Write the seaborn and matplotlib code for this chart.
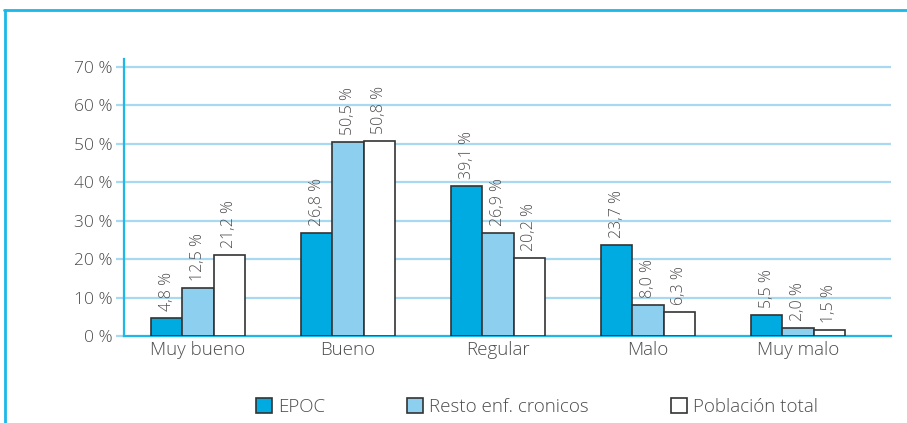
import matplotlib
matplotlib.use("Agg")
import matplotlib.pyplot as plt
from matplotlib.lines import Line2D
from matplotlib.patches import Rectangle
import pandas as pd
import seaborn as sns

# Self-rated health by group (%)
categories = ["Muy bueno", "Bueno", "Regular", "Malo", "Muy malo"]
series_names = ["EPOC", "Resto enf. cronicos", "Población total"]
epoc = [4.8, 26.8, 39.1, 23.7, 5.5]
resto = [12.5, 50.5, 26.9, 8.0, 2.0]
poblacion = [21.2, 50.8, 20.2, 6.3, 1.5]
y_ticks = [0, 10, 20, 30, 40, 50, 60, 70]

colors = ["#00abe2", "#8dcfef", "#ffffff"]
cyan = "#1cb8e8"
grid_col = "#a9d9f1"
text_col = "#4d4d4d"
weight = 300

rows = []
for name, vals in zip(series_names, [epoc, resto, poblacion]):
    for cat, v in zip(categories, vals):
        rows.append({"categoria": cat, "serie": name, "valor": v})
df = pd.DataFrame(rows)

sns.set_theme(style="white")
plt.rcParams["font.family"] = ["Open Sans", "DejaVu Sans"]

fig = plt.figure(figsize=(9.07, 4.23), dpi=100)
ax = fig.add_axes([124 / 907, (423 - 336) / 423, (891 - 124) / 907, (336 - 59) / 423])

sns.barplot(data=df, x="categoria", y="valor", hue="serie", order=categories,
            hue_order=series_names, palette=colors, saturation=1, width=0.627, gap=0,
            edgecolor="#333333", linewidth=1.2, ax=ax, legend=False, zorder=3)

for cont in ax.containers:
    labels = [f"{v:.1f} %".replace(".", ",") for v in cont.datavalues]
    ax.bar_label(cont, labels=labels, rotation=90, padding=5, fontsize=11.5,
                 color=text_col, fontweight=weight)

ax.set_xlim(-0.493, 4.62)
ax.set_ylim(0, 72.1)
ax.set_yticks(y_ticks)
ax.set_yticklabels([f"{t} %" for t in y_ticks])
ax.set_xlabel("")
ax.set_ylabel("")

for t in y_ticks[1:]:
    ax.axhline(t, color=grid_col, lw=1.6, zorder=1)

for side in ["top", "right"]:
    ax.spines[side].set_visible(False)
for side in ["left", "bottom"]:
    ax.spines[side].set_color(cyan)
    ax.spines[side].set_linewidth(1.6)

ax.tick_params(axis="y", length=5.5, width=1.6, color=grid_col, pad=3,
               labelsize=12.5, labelcolor=text_col, left=True)
ax.tick_params(axis="x", length=0, pad=3.5, labelsize=13.5, labelcolor=text_col)
for lab in ax.get_yticklabels() + ax.get_xticklabels():
    lab.set_fontweight(weight)

handles = [Rectangle((0, 0), 1, 1, facecolor=c, edgecolor="#333333", lw=1.2)
           for c in colors]
leg = fig.legend(handles, series_names, loc="center", bbox_to_anchor=(537 / 907, 16 / 423),
                 ncol=3, frameon=False, handlelength=0.85, handleheight=0.85,
                 handletextpad=0.32, columnspacing=4.4, fontsize=13.5)
for t in leg.get_texts():
    t.set_color(text_col)
    t.set_fontweight(weight)

# Outer frame: top and left edges
fig.add_artist(Line2D([4 / 907, 1.0], [1 - 10.5 / 423] * 2, color=cyan, lw=2,
                      transform=fig.transFigure))
fig.add_artist(Line2D([5 / 907] * 2, [0, 1 - 10.5 / 423], color=cyan, lw=2,
                      transform=fig.transFigure))

fig.savefig("out.png", dpi=100, facecolor="white")
